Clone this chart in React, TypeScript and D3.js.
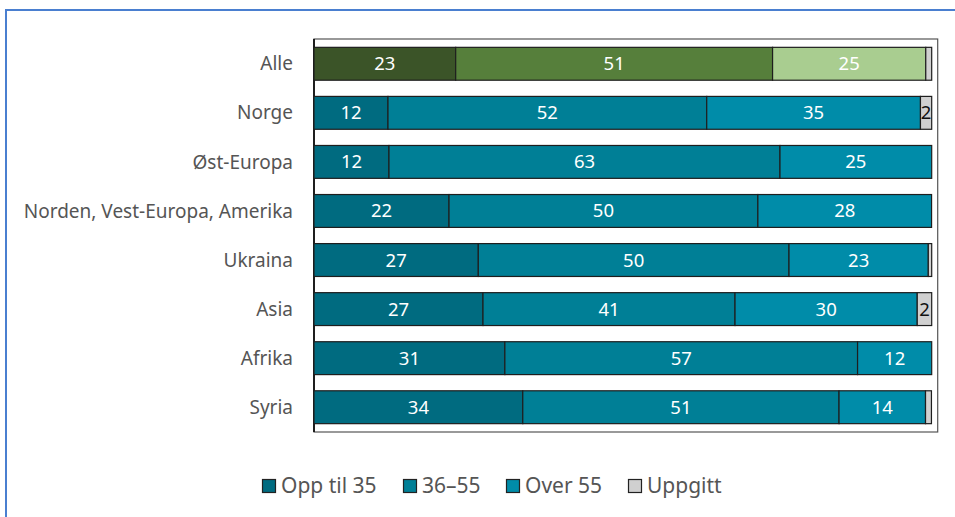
import React from "react";
import * as d3 from "d3";

const categories = ["Alle", "Norge", "Øst-Europa", "Norden, Vest-Europa, Amerika", "Ukraina", "Asia", "Afrika", "Syria"];
const seriesNames = ["Opp til 35", "36–55", "Over 55", "Uppgitt"];
const oppTil35 = [22.94, 11.98, 12.14, 21.86, 26.6, 27.36, 30.9, 33.8];
const mid36to55 = [51.3, 51.6, 63.3, 50.0, 50.3, 40.8, 57.1, 51.2];
const over55 = [24.8, 34.6, 24.56, 28.12, 22.55, 29.5, 12.0, 14.0];
const uppgitt = [0.96, 1.82, 0, 0, 0.55, 2.34, 0, 0.96];

const tealColors = ["#006b80", "#007f96", "#008ca9", "#d0d0d0"];
const greenColors = ["#3b5428", "#567f3b", "#a9cd90", "#d0d0d0"];

export default function App() {
  const W = 955, H = 517;
  const x0 = 314, x1 = 931.7, top = 39, bottom = 432, frameRight = 937.7;
  const x = d3.scaleLinear().domain([0, 100]).range([x0, x1]);
  const y = d3.scaleBand<string>().domain(categories).range([top, bottom]).paddingInner(0.33).paddingOuter(0.17);
  const series = [oppTil35, mid36to55, over55, uppgitt];
  const table = categories.map((c, i) => {
    const obj: any = { cat: c };
    seriesNames.forEach((s, k) => (obj[s] = series[k][i]));
    return obj;
  });
  const stacked = d3.stack<any>().keys(seriesNames)(table);
  const font = "'Source Sans Pro', 'Noto Sans', sans-serif";

  const legendX = [262, 403, 506, 628];

  return (
    <svg width={W} height={H} style={{ position: "absolute", left: 0, top: 0, background: "#fff" }} fontFamily={font}>
      <rect x={6} y={10} width={W + 20} height={H + 20} fill="none" stroke="#4a7fd0" strokeWidth={2} />
      <rect x={x0} y={top} width={frameRight - x0} height={bottom - top} fill="none" stroke="#555" strokeWidth={1.2} />
      <line x1={x0} x2={x0} y1={top} y2={bottom} stroke="#111" strokeWidth={1.8} />
      {stacked.map((layer, k) => (
        <g key={layer.key}>
          {layer.map((d, i) => {
            const v = d[1] - d[0];
            if (v <= 0) return null;
            const cat = categories[i];
            const colors = i === 0 ? greenColors : tealColors;
            const xa = x(d[0]), xb = x(d[1]);
            const yy = y(cat)!;
            const label = Math.round(v);
            return (
              <g key={cat}>
                <rect x={xa} y={yy} width={xb - xa} height={y.bandwidth()} fill={colors[k]} stroke="#1e1e1e" strokeWidth={1.2} />
                {label >= 2 && (
                  <text x={(xa + xb) / 2} y={yy + y.bandwidth() / 2} dy="0.35em" textAnchor="middle" fontSize={18.5}
                    fill={k === 3 ? "#111" : "#fff"}>{label}</text>
                )}
              </g>
            );
          })}
        </g>
      ))}
      {categories.map((c) => (
        <text key={c} x={293} y={y(c)! + y.bandwidth() / 2} dy="0.35em" textAnchor="end" fontSize={19} fill="#555">{c}</text>
      ))}
      {seriesNames.map((s, k) => (
        <g key={s} transform={`translate(${legendX[k]},479)`}>
          <rect x={0.5} y={0.5} width={13} height={13} fill={tealColors[k]} stroke="#222" strokeWidth={1.2} />
          <text x={19} y={7} dy="0.35em" fontSize={21} fill="#555">{s}</text>
        </g>
      ))}
    </svg>
  );
}
